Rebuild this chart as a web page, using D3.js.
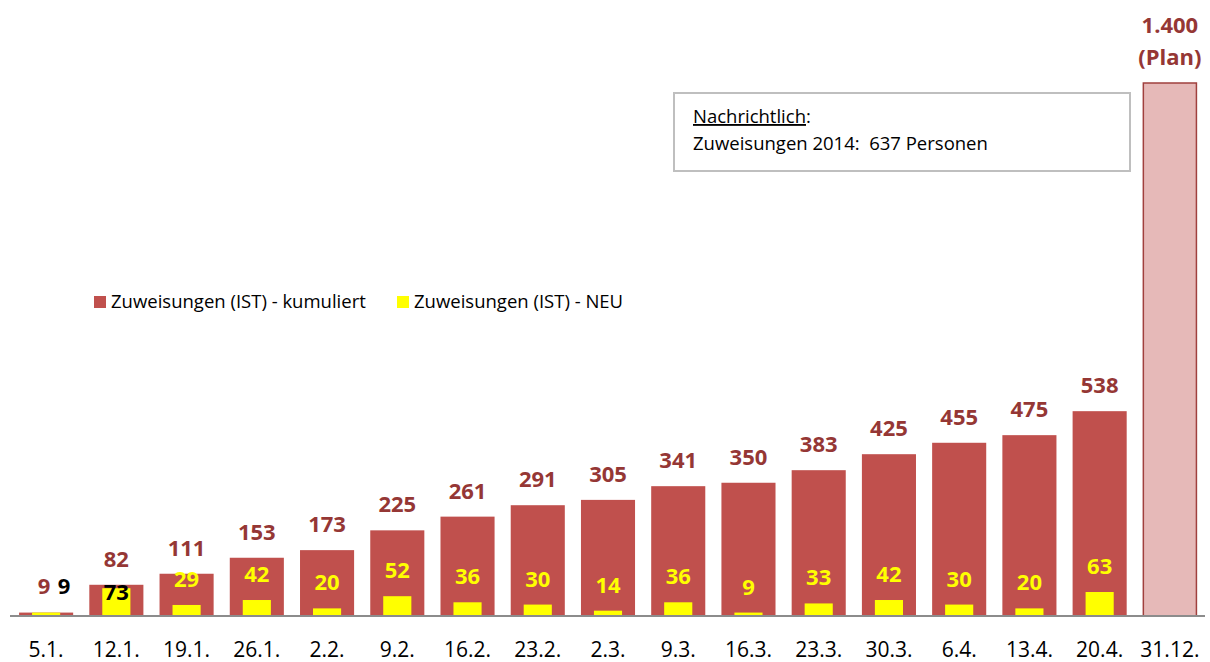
<!DOCTYPE html>
<html>
<head>
<meta charset="utf-8">
<script src="https://cdn.jsdelivr.net/npm/d3@7"></script>
<style>
  body { margin: 0; background: #fff; }
  svg text { font-family: "Open Sans", sans-serif; }
</style>
</head>
<body>
<div id="chart"></div>
<script>
// data
const dates = ["5.1.", "12.1.", "19.1.", "26.1.", "2.2.", "9.2.", "16.2.", "23.2.", "2.3.", "9.3.", "16.3.", "23.3.", "30.3.", "6.4.", "13.4.", "20.4.", "31.12."];
const kumuliert = [9, 82, 111, 153, 173, 225, 261, 291, 305, 341, 350, 383, 425, 455, 475, 538];
const neu = [9, 73, 29, 42, 20, 52, 36, 30, 14, 36, 9, 33, 42, 30, 20, 63];
const plan = 1400;

const width = 1210, height = 662;

const svg = d3.select("#chart")
    .append("svg")
        .attr("width", width)
        .attr("height", height);

const x = d3.scaleBand()
    .domain(dates)
    .range([11, 1205])
    .paddingInner(0.23)
    .paddingOuter(0.115);

const y = d3.scaleLinear()
    .domain([0, plan])
    .range([616, 83]);

const red = "#C0504D", darkRed = "#953735", yellow = "#FFFF00";

const rows = kumuliert.map(function(d, i) {
    return {date: dates[i], cum: d, neu: neu[i]};
});

// cumulative bars
svg.append("g")
    .selectAll("rect")
    .data(rows)
    .join("rect")
        .attr("x", d => x(d.date))
        .attr("y", d => y(d.cum))
        .attr("width", x.bandwidth())
        .attr("height", d => y(0) - y(d.cum))
        .attr("fill", red);

// plan bar
const last = dates[dates.length - 1];
svg.append("rect")
    .attr("x", x(last) + 0.5)
    .attr("y", y(plan))
    .attr("width", x.bandwidth() - 1)
    .attr("height", y(0) - y(plan))
    .attr("fill", "#E6B9B8")
    .attr("stroke", "#A0403E")
    .attr("stroke-width", 1.5);

// new bars (narrower, centred)
const nw = x.bandwidth() * 0.52;
svg.append("g")
    .selectAll("rect")
    .data(rows)
    .join("rect")
        .attr("x", d => x(d.date) + (x.bandwidth() - nw) / 2)
        .attr("y", d => y(d.neu))
        .attr("width", nw)
        .attr("height", d => y(0) - y(d.neu))
        .attr("fill", yellow);

// axis line
svg.append("line")
    .attr("x1", 10).attr("x2", 1205)
    .attr("y1", y(0)).attr("y2", y(0))
    .attr("stroke", "#8c8c8c")
    .attr("stroke-width", 2);

// x labels
svg.append("g")
    .selectAll("text")
    .data(dates)
    .join("text")
        .attr("x", d => x(d) + x.bandwidth() / 2)
        .attr("y", 657)
        .attr("text-anchor", "middle")
        .style("font-size", "21px")
        .attr("fill", "#000")
        .text(d => d);

// cumulative value labels
svg.append("g")
    .selectAll("text")
    .data(rows)
    .join("text")
        .attr("x", function(d, i) {
            const cx = x(d.date) + x.bandwidth() / 2;
            return i === 0 ? cx - 2 : cx;
        })
        .attr("y", (d, i) => i === 0 ? 594 : y(d.cum) - 18)
        .attr("text-anchor", "middle")
        .style("font-size", "22px")
        .style("font-weight", "bold")
        .attr("fill", darkRed)
        .text(d => d.cum);

// new value labels
svg.append("g")
    .selectAll("text")
    .data(rows)
    .join("text")
        .attr("x", function(d, i) {
            const cx = x(d.date) + x.bandwidth() / 2;
            return i === 0 ? cx + 18 : cx;
        })
        .attr("y", function(d, i) {
            if (i === 0) return 594;
            if (i === 1) return 600;
            return y(d.neu) - 18;
        })
        .attr("text-anchor", "middle")
        .style("font-size", "22px")
        .style("font-weight", "bold")
        .attr("fill", (d, i) => i < 2 ? "#000" : yellow)
        .text(d => d.neu);

// plan label
const pcx = x(last) + x.bandwidth() / 2;
svg.append("text")
    .attr("x", pcx).attr("y", 33)
    .attr("text-anchor", "middle")
    .style("font-size", "22px").style("font-weight", "bold")
    .attr("fill", darkRed)
    .text("1.400");
svg.append("text")
    .attr("x", pcx).attr("y", 65)
    .attr("text-anchor", "middle")
    .style("font-size", "22px").style("font-weight", "bold")
    .attr("fill", darkRed)
    .text("(Plan)");

// legend
const legend = [
    {label: "Zuweisungen (IST) - kumuliert", color: red, x: 94},
    {label: "Zuweisungen (IST) - NEU", color: yellow, x: 397}
];
const lg = svg.append("g")
    .selectAll("g")
    .data(legend)
    .join("g")
        .attr("transform", d => "translate(" + d.x + ",296)");
lg.append("rect")
    .attr("width", 12).attr("height", 12)
    .attr("fill", d => d.color);
lg.append("text")
    .attr("x", 17).attr("y", 12)
    .style("font-size", "18.5px")
    .attr("fill", "#000")
    .text(d => d.label);

// note box
svg.append("rect")
    .attr("x", 674).attr("y", 93)
    .attr("width", 456).attr("height", 78)
    .attr("fill", "#fff")
    .attr("stroke", "#bfbfbf")
    .attr("stroke-width", 2);
const note = svg.append("text")
    .attr("x", 693).attr("y", 123)
    .style("font-size", "18.5px")
    .attr("fill", "#000");
note.append("tspan")
    .style("text-decoration", "underline")
    .text("Nachrichtlich");
note.append("tspan").text(":");
svg.append("text")
    .attr("x", 693).attr("y", 150)
    .style("font-size", "18.5px")
    .attr("fill", "#000")
    .style("white-space", "pre")
    .text("Zuweisungen 2014:  637 Personen");
</script>
</body>
</html>
